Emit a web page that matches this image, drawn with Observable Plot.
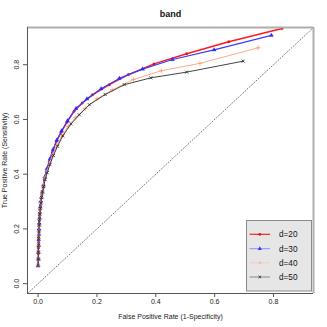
<!DOCTYPE html>
<html>
<head>
<meta charset="utf-8">
<script src="https://cdn.jsdelivr.net/npm/d3@7"></script>
<script src="https://cdn.jsdelivr.net/npm/@observablehq/plot@0.6"></script>
<style>
  html, body { margin: 0; padding: 0; background: #ffffff; }
  svg { display: block; }
</style>
</head>
<body>
<div id="chart"></div>
<script>
const titleText = "band";
const xLabel = "False Positive Rate (1-Specificity)";
const yLabel = "True Positive Rate (Sensitivity)";
const tickValues = [0, 0.2, 0.4, 0.6, 0.8];
const domainLo = -0.036, domainHi = 0.936;

const seriesNames = ["d=20", "d=30", "d=40", "d=50"];

const fpr20 = [0.000,0.001,0.001,0.001,0.002,0.002,0.003,0.003,0.004,0.005,0.006,0.008,0.010,0.013,0.017,0.022,0.029,0.038,0.049,0.062,0.078,0.098,0.122,0.150,0.185,0.242,0.307,0.394,0.505,0.648,0.829];
const tpr20 = [0.066,0.090,0.110,0.130,0.150,0.170,0.190,0.210,0.230,0.250,0.270,0.285,0.300,0.325,0.350,0.380,0.410,0.445,0.480,0.520,0.553,0.590,0.630,0.660,0.690,0.727,0.764,0.803,0.840,0.884,0.932];

const fpr30 = [0.000,0.001,0.001,0.002,0.002,0.003,0.003,0.004,0.005,0.006,0.007,0.009,0.011,0.014,0.018,0.023,0.030,0.040,0.051,0.064,0.080,0.100,0.129,0.166,0.214,0.276,0.355,0.457,0.598,0.793];
const tpr30 = [0.066,0.090,0.115,0.140,0.160,0.180,0.200,0.220,0.240,0.260,0.280,0.300,0.315,0.335,0.360,0.390,0.420,0.455,0.490,0.525,0.558,0.595,0.640,0.675,0.712,0.750,0.784,0.819,0.854,0.907];

const fpr40 = [0.000,0.001,0.001,0.002,0.002,0.003,0.004,0.005,0.006,0.007,0.009,0.011,0.014,0.018,0.023,0.030,0.039,0.050,0.064,0.081,0.102,0.128,0.160,0.200,0.252,0.324,0.419,0.550,0.748];
const tpr40 = [0.066,0.090,0.115,0.140,0.165,0.190,0.210,0.235,0.255,0.275,0.295,0.315,0.335,0.360,0.385,0.410,0.440,0.472,0.505,0.540,0.575,0.608,0.640,0.675,0.708,0.746,0.778,0.805,0.862];

const fpr50 = [0.000,0.001,0.001,0.002,0.002,0.003,0.004,0.005,0.006,0.008,0.010,0.012,0.015,0.019,0.024,0.031,0.040,0.052,0.066,0.084,0.112,0.140,0.174,0.228,0.293,0.383,0.505,0.697];
const tpr50 = [0.066,0.090,0.115,0.140,0.165,0.190,0.215,0.235,0.255,0.275,0.295,0.315,0.335,0.355,0.380,0.405,0.435,0.468,0.502,0.540,0.584,0.617,0.654,0.691,0.727,0.752,0.773,0.813];

const seriesStyle = [
  {name: "d=20", fpr: fpr20, tpr: tpr20, color: "#ff1a1a", legendColor: "#ff2020", markColor: "#e81010", width: 1.5, symbol: "circle", r: 1.25, fill: true},
  {name: "d=30", fpr: fpr30, tpr: tpr30, color: "#3b3bff", legendColor: "#8c8cff", markColor: "#2a2aff", width: 1.2, symbol: "triangle", r: 1.5, fill: true},
  {name: "d=40", fpr: fpr40, tpr: tpr40, color: "#ffab8c", legendColor: "#f8cdb9", markColor: "#f5a080", width: 1.0, symbol: "plus", r: 1.6, fill: false},
  {name: "d=50", fpr: fpr50, tpr: tpr50, color: "#444444", legendColor: "#8a8a8a", markColor: "#333333", width: 1.0, symbol: "times", r: 1.5, fill: false}
];

const font = "'Liberation Sans', Arial, Helvetica, sans-serif";

const marks = [];
// diagonal reference line
marks.push(Plot.line([[domainLo, domainLo], [domainHi, domainHi]], {
  stroke: "#777", strokeWidth: 1, strokeDasharray: "1,2"
}));

for (const s of seriesStyle) {
  const pts = s.fpr.map((x, i) => ({x, y: s.tpr[i]}));
  marks.push(Plot.line(pts, {x: "x", y: "y", stroke: s.color, strokeWidth: s.width}));
  marks.push(Plot.dot(pts, {
    x: "x", y: "y", symbol: () => s.symbol, r: s.r,
    fill: s.fill ? s.markColor : "none", stroke: s.markColor, strokeWidth: s.fill ? 0.3 : 0.9
  }));
}

// box
marks.push(Plot.ruleY([domainHi], {stroke: "#adadad", strokeWidth: 2}));
marks.push(Plot.ruleX([domainHi], {stroke: "#adadad", strokeWidth: 2}));
marks.push(Plot.ruleY([domainLo], {stroke: "#555", strokeWidth: 1}));
marks.push(Plot.ruleX([domainLo], {stroke: "#555", strokeWidth: 1}));

// axes
marks.push(Plot.axisX(tickValues, {
  tickSize: 4, tickPadding: 2, tickFormat: d3.format(".1f"), label: null,
  fontSize: 7, stroke: "#555", color: "#222"
}));
marks.push(Plot.axisY(tickValues, {
  tickSize: 4, tickFormat: () => "", label: null, stroke: "#555"
}));
marks.push(Plot.text(tickValues, {
  y: d => d, frameAnchor: "left", dx: -11, rotate: -90,
  text: d => d3.format(".1f")(d), textAnchor: "middle", lineAnchor: "middle",
  fontSize: 7, fill: "#222"
}));

// title and axis labels
marks.push(Plot.text([titleText], {
  frameAnchor: "top", dy: -13, text: d => d, fontSize: 9, fontWeight: "bold",
  fill: "#111", lineAnchor: "middle"
}));
marks.push(Plot.text([xLabel], {
  frameAnchor: "bottom", dy: 23, text: d => d, fontSize: 7, fill: "#222", lineAnchor: "middle"
}));
marks.push(Plot.text([yLabel], {
  frameAnchor: "left", dx: -22.5, rotate: -90, text: d => d, fontSize: 7, fill: "#222",
  textAnchor: "middle", lineAnchor: "middle"
}));

const chart = Plot.plot({
  width: 327,
  height: 327,
  marginLeft: 27,
  marginRight: 14,
  marginTop: 27,
  marginBottom: 34,
  style: {fontFamily: font, background: "#ffffff"},
  x: {domain: [domainLo, domainHi]},
  y: {domain: [domainLo, domainHi]},
  marks
});

// legend (layout element appended to the plot svg)
const svg = d3.select(chart);
const lg = svg.append("g").attr("font-family", font).attr("text-anchor", "start");
lg.append("rect")
  .attr("x", 246.5).attr("y", 220.5).attr("width", 65).attr("height", 70.5)
  .attr("fill", "#e6e6e6").attr("stroke", "#8a8a8a").attr("stroke-width", 1);
const sym = {
  circle: d3.symbol(d3.symbolCircle, 6),
  triangle: d3.symbol(d3.symbolTriangle, 8)
};
const rowY = [234.3, 248.7, 262.8, 277];
seriesStyle.forEach((s, i) => {
  const y = rowY[i];
  const row = lg.append("g");
  row.append("line").attr("x1", 249.5).attr("x2", 270).attr("y1", y).attr("y2", y)
    .attr("stroke", s.legendColor).attr("stroke-width", i === 0 ? 1.2 : 1);
  if (s.symbol === "plus" || s.symbol === "times") {
    const h = 1.6;
    const g = row.append("g").attr("transform", `translate(259.8,${y})`)
      .attr("stroke", i === 3 ? "#333" : "#f5b8a0").attr("stroke-width", 0.9);
    if (s.symbol === "plus") {
      g.append("line").attr("x1", -h).attr("x2", h).attr("y1", 0).attr("y2", 0);
      g.append("line").attr("x1", 0).attr("x2", 0).attr("y1", -h).attr("y2", h);
    } else {
      g.append("line").attr("x1", -h*0.8).attr("x2", h*0.8).attr("y1", -h*0.8).attr("y2", h*0.8);
      g.append("line").attr("x1", -h*0.8).attr("x2", h*0.8).attr("y1", h*0.8).attr("y2", -h*0.8);
    }
  } else {
    row.append("path").attr("d", sym[s.symbol]())
      .attr("transform", `translate(259.8,${y})`)
      .attr("fill", i === 1 ? "#3b3bff" : "#e81010");
  }
  row.append("text").attr("x", 279).attr("y", y).attr("dy", "0.35em")
    .attr("font-size", 8.2).attr("fill", "#111").text(s.name);
});

document.getElementById("chart").appendChild(chart);
</script>
</body>
</html>
